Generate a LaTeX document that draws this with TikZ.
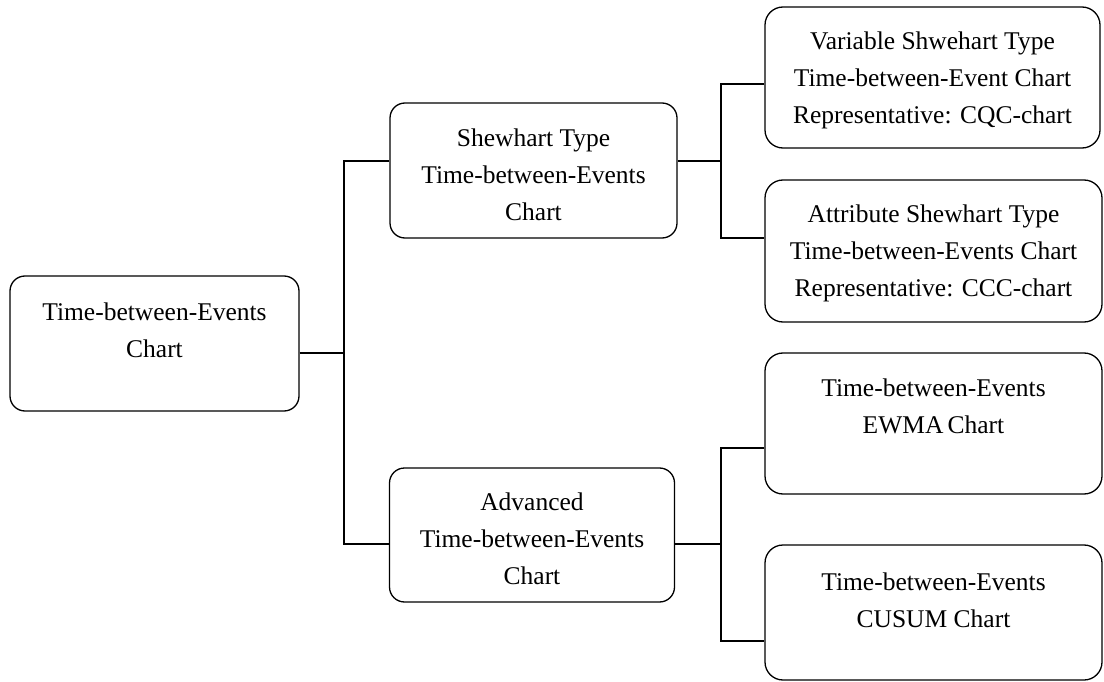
\documentclass[tikz,border=0pt]{standalone}
\usepackage{fontspec}
\setmainfont{Liberation Serif}
\usetikzlibrary{calc}
\tikzset{
  box/.style={draw, line width=1.3pt, rounded corners=15pt, inner sep=0pt},
  txt/.style={align=center, inner sep=0pt, font=\fontsize{25.5}{37}\selectfont},
  conn/.style={line width=1.3pt}
}
\begin{document}
\begin{tikzpicture}[x=1pt,y=-1pt]
\useasboundingbox (0,0) rectangle (1104,682);
% boxes
\node[box, minimum width=289pt, minimum height=135pt] (root) at (154.5,343.5) {};
\node[box, minimum width=287pt, minimum height=135pt] (shew) at (533.5,170.5) {};
\node[box, minimum width=285pt, minimum height=134pt] (adv) at (532,535) {};
\node[box, minimum width=335pt, minimum height=141pt, rounded corners=18pt] (var) at (932.5,77.5) {};
\node[box, minimum width=337pt, minimum height=142pt, rounded corners=18pt] (attr) at (933.5,251) {};
\node[box, minimum width=337pt, minimum height=141pt, rounded corners=18pt] (ewma) at (933.5,423.5) {};
\node[box, minimum width=337pt, minimum height=135pt, rounded corners=18pt] (cusum) at (933.5,612.5) {};
% texts
\node[txt] (rootT) at (154.5,330) {Time-between-Events\\Chart};
\node[txt] (shewT) at (533.5,175) {Shewhart Type\\Time-between-Events\\Chart};
\node[txt] (advT) at (532,539) {Advanced\\Time-between-Events\\Chart};
\node[txt] (varT) at (932.5,80) {Variable Shwehart Type\\Time-between-Event Chart\\Representative: CQC-chart};
\node[txt] (attrT) at (933.5,253) {Attribute Shewhart Type\\Time-between-Events Chart\\Representative: CCC-chart};
\node[txt] (ewmaT) at (933.5,406) {Time-between-Events\\EWMA\,Chart};
\node[txt] (cusumT) at (933.5,600) {Time-between-Events\\CUSUM Chart};
% junction coordinates
\coordinate (j0) at (344,353);
\coordinate (a1) at (344,161);
\coordinate (a2) at (344,544);
\coordinate (b0) at (721,161);
\coordinate (b1) at (721,84);
\coordinate (b2) at (721,238);
\coordinate (c0) at (721,544);
\coordinate (c1) at (721,448);
\coordinate (c2) at (721,641);
% connectors
\draw[conn] (root.east |- j0) -- (j0);
\draw[conn] (shew.west |- a1) -- (a1) -- (a2) -- (adv.west |- a2);
\draw[conn] (shew.east |- b0) -- (b0);
\draw[conn] (var.west |- b1) -- (b1) -- (b2) -- (attr.west |- b2);
\draw[conn] (adv.east |- c0) -- (c0);
\draw[conn] (ewma.west |- c1) -- (c1) -- (c2) -- (cusum.west |- c2);
\end{tikzpicture}
\end{document}
